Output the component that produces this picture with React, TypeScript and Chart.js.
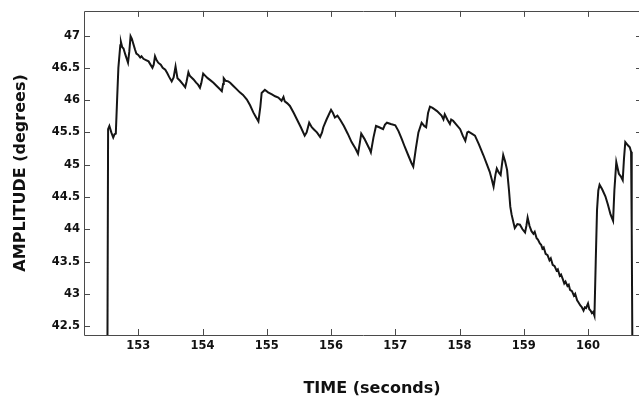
import React, { useEffect, useRef } from "react";
import { Chart, registerables } from "chart.js";

Chart.register(...registerables);

const timeSec: number[] = [
  152.52, 152.53, 152.55, 152.58, 152.61, 152.63, 152.65, 152.67, 152.69, 152.72,
  152.73, 152.75, 152.77, 152.8, 152.84, 152.86, 152.88, 152.9, 152.92, 152.95,
  152.97, 153.0, 153.03, 153.05, 153.08, 153.12, 153.16, 153.19, 153.22, 153.24,
  153.26, 153.28, 153.31, 153.35, 153.38, 153.42, 153.45, 153.48, 153.52, 153.55,
  153.58, 153.6, 153.61, 153.65, 153.69, 153.73, 153.75, 153.78, 153.8, 153.86,
  153.9, 153.93, 153.96, 153.98, 154.01, 154.04, 154.08, 154.12, 154.17, 154.22,
  154.26, 154.3, 154.32, 154.33, 154.36, 154.4, 154.43, 154.48, 154.53, 154.58,
  154.63, 154.69, 154.74, 154.79, 154.83, 154.87, 154.9, 154.92, 154.97, 155.02,
  155.08, 155.13, 155.18, 155.23, 155.26, 155.28, 155.32, 155.36, 155.42, 155.47,
  155.53, 155.59, 155.62, 155.66, 155.7, 155.73, 155.78, 155.83, 155.86, 155.88,
  155.93, 156.0, 156.03, 156.06, 156.1, 156.14, 156.2, 156.26, 156.32, 156.38,
  156.42, 156.45, 156.47, 156.52, 156.56, 156.6, 156.62, 156.66, 156.7, 156.75,
  156.81, 156.84, 156.87, 156.93, 157.0, 157.05, 157.1, 157.15, 157.2, 157.25,
  157.28, 157.32, 157.36, 157.41, 157.45, 157.48, 157.51, 157.54, 157.58, 157.65,
  157.72, 157.75, 157.77, 157.81, 157.85, 157.87, 157.9, 157.95, 158.01, 158.05,
  158.09, 158.12, 158.14, 158.19, 158.24, 158.3, 158.37, 158.42, 158.47, 158.5,
  158.53, 158.56, 158.58, 158.61, 158.64, 158.66, 158.68, 158.71, 158.74, 158.77,
  158.79, 158.81, 158.84, 158.86, 158.9, 158.94, 158.98, 159.02, 159.04, 159.06,
  159.09, 159.12, 159.15, 159.17, 159.2, 159.22, 159.25, 159.27, 159.29, 159.31,
  159.34, 159.37, 159.4, 159.42, 159.45, 159.48, 159.51, 159.53, 159.56, 159.58,
  159.61, 159.63, 159.65, 159.68, 159.7, 159.72, 159.75, 159.78, 159.8, 159.83,
  159.85, 159.88, 159.9, 159.93, 159.95, 159.97, 160.0, 160.02, 160.04, 160.06,
  160.08, 160.1, 160.12, 160.14, 160.16, 160.18, 160.22, 160.27, 160.31, 160.35,
  160.39, 160.41, 160.44, 160.46, 160.48, 160.51, 160.54, 160.56, 160.58, 160.62,
  160.65, 160.67, 160.68, 160.69,
];

const amplitudeDeg: number[] = [
  42.2, 45.55, 45.6, 45.5, 45.42, 45.47, 45.48, 46.0, 46.5, 46.85,
  46.9, 46.82, 46.8, 46.7, 46.58, 46.75, 46.99, 46.95, 46.88, 46.78,
  46.72, 46.7, 46.66, 46.68, 46.64, 46.62, 46.6, 46.55, 46.5, 46.55,
  46.68, 46.63, 46.58, 46.55, 46.5, 46.47, 46.42, 46.36, 46.29, 46.35,
  46.52, 46.4, 46.34, 46.3, 46.25, 46.2, 46.28, 46.43, 46.38, 46.32,
  46.27, 46.24, 46.19, 46.26, 46.41, 46.38, 46.34, 46.31, 46.27, 46.22,
  46.18, 46.14, 46.25, 46.34, 46.3, 46.29, 46.27, 46.22, 46.17, 46.12,
  46.08, 46.01, 45.92, 45.81, 45.74, 45.67, 45.9, 46.11, 46.16, 46.12,
  46.09, 46.06, 46.04, 45.99, 46.05, 45.98, 45.95, 45.91, 45.8, 45.7,
  45.58, 45.45, 45.5, 45.65, 45.58, 45.55, 45.5, 45.43, 45.5, 45.58,
  45.7, 45.85, 45.8, 45.73, 45.76, 45.7, 45.6, 45.48, 45.35, 45.25,
  45.17, 45.35, 45.48, 45.4, 45.32, 45.24, 45.19, 45.42, 45.6, 45.58,
  45.55, 45.62, 45.65, 45.63, 45.61, 45.52, 45.4, 45.27, 45.15, 45.03,
  44.97, 45.25, 45.5, 45.65, 45.6, 45.58, 45.8, 45.9, 45.88, 45.83,
  45.76, 45.7, 45.78, 45.7, 45.63, 45.7, 45.68, 45.62, 45.55, 45.45,
  45.37, 45.5, 45.51, 45.48, 45.45, 45.32, 45.15, 45.02, 44.89, 44.78,
  44.66, 44.85, 44.94, 44.88, 44.84, 45.0, 45.15, 45.05, 44.92, 44.6,
  44.35, 44.23, 44.1, 44.02, 44.08, 44.07, 44.0, 43.95, 44.05, 44.18,
  44.05, 43.97, 43.93, 43.96, 43.86, 43.84, 43.78, 43.76, 43.7, 43.72,
  43.62, 43.6, 43.52, 43.55, 43.45, 43.43, 43.36, 43.38, 43.28, 43.3,
  43.22, 43.16, 43.19, 43.12, 43.14, 43.06, 43.04, 42.97, 43.0, 42.9,
  42.87, 42.82, 42.8, 42.74, 42.79, 42.78, 42.85, 42.76, 42.74, 42.7,
  42.72, 42.66, 43.5, 44.3, 44.6, 44.69, 44.62, 44.51, 44.38, 44.23,
  44.13, 44.6, 45.04, 44.95, 44.86, 44.82, 44.76, 45.1, 45.35, 45.3,
  45.27, 45.2, 44.0, 42.2,
];

const xTickValues: number[] = [153, 154, 155, 156, 157, 158, 159, 160];
const yTickValues: number[] = [42.5, 43, 43.5, 44, 44.5, 45, 45.5, 46, 46.5, 47];
const xTitle = "TIME (seconds)";
const yTitle = "AMPLITUDE (degrees)";

const FONT = "'DejaVu Sans', 'Liberation Sans', Arial, sans-serif";

const boxPlugin = {
  id: "boxTicks",
  afterDraw(chart: any) {
    const { ctx, chartArea: a, scales } = chart;
    const x = scales.x;
    const y = scales.y;
    const len = 6;
    ctx.save();
    ctx.strokeStyle = "#4a4a4a";
    ctx.lineWidth = 1;
    ctx.beginPath();
    ctx.rect(Math.round(a.left) + 0.5, Math.round(a.top) + 0.5, Math.round(a.right - a.left), Math.round(a.bottom - a.top));
    ctx.stroke();
    ctx.beginPath();
    xTickValues.forEach((v) => {
      const px = Math.round(x.getPixelForValue(v)) + 0.5;
      ctx.moveTo(px, a.bottom);
      ctx.lineTo(px, a.bottom - len);
      ctx.moveTo(px, a.top);
      ctx.lineTo(px, a.top + len);
    });
    yTickValues.forEach((v) => {
      const py = Math.round(y.getPixelForValue(v)) + 0.5;
      ctx.moveTo(a.left, py);
      ctx.lineTo(a.left + len, py);
      ctx.moveTo(a.right, py);
      ctx.lineTo(a.right - len, py);
    });
    ctx.stroke();
    ctx.fillStyle = "#111";
    ctx.font = `bold 16px ${FONT}`;
    ctx.textAlign = "center";
    ctx.textBaseline = "middle";
    ctx.fillText(xTitle, (a.left + a.right) / 2 + 9, 389);
    ctx.restore();
  },
};

export default function App() {
  const ref = useRef<HTMLCanvasElement | null>(null);

  useEffect(() => {
    document.body.style.margin = "0";
    document.body.style.overflow = "hidden";
    const canvas = ref.current;
    if (!canvas) return;
    const chart = new Chart(canvas, {
      type: "line",
      data: {
        datasets: [
          {
            data: timeSec.map((t, i) => ({ x: t, y: amplitudeDeg[i] })),
            borderColor: "#151515",
            borderWidth: 2,
            pointRadius: 0,
            tension: 0,
            fill: false,
          },
        ],
      },
      options: {
        animation: false,
        responsive: false,
        devicePixelRatio: 1,
        layout: { padding: { left: 0, right: 3, top: 7, bottom: 0 } },
        plugins: { legend: { display: false }, tooltip: { enabled: false } },
        scales: {
          x: {
            type: "linear",
            min: 152.155,
            max: 160.84,
            afterFit: (s: any) => {
              s.height = 68;
            },
            afterBuildTicks: (s: any) => {
              s.ticks = xTickValues.map((v) => ({ value: v }));
            },
            border: { display: false },
            grid: { display: false, drawTicks: false },
            ticks: {
              padding: 4,
              color: "#111",
              font: { family: FONT, size: 11.5, weight: "bold" },
              callback: (v: any) => String(v),
            },
          },
          y: {
            type: "linear",
            min: 42.362,
            max: 47.382,
            afterFit: (s: any) => {
              s.width = 84;
            },
            afterBuildTicks: (s: any) => {
              s.ticks = yTickValues.map((v) => ({ value: v }));
            },
            border: { display: false },
            grid: { display: false, drawTicks: false },
            title: {
              display: true,
              text: yTitle,
              color: "#111",
              font: { family: FONT, size: 16, weight: "bold" },
              padding: { top: 11, bottom: 0 },
            },
            ticks: {
              padding: 4,
              color: "#111",
              font: { family: FONT, size: 11.5, weight: "bold" },
              callback: (v: any) => String(v),
            },
          },
        },
      },
      plugins: [boxPlugin],
    });
    return () => chart.destroy();
  }, []);

  return (
    <div style={{ width: 639, height: 403, overflow: "hidden", position: "relative" }}>
      <canvas ref={ref} width={645} height={403} style={{ display: "block", width: 645, height: 403 }} />
    </div>
  );
}
